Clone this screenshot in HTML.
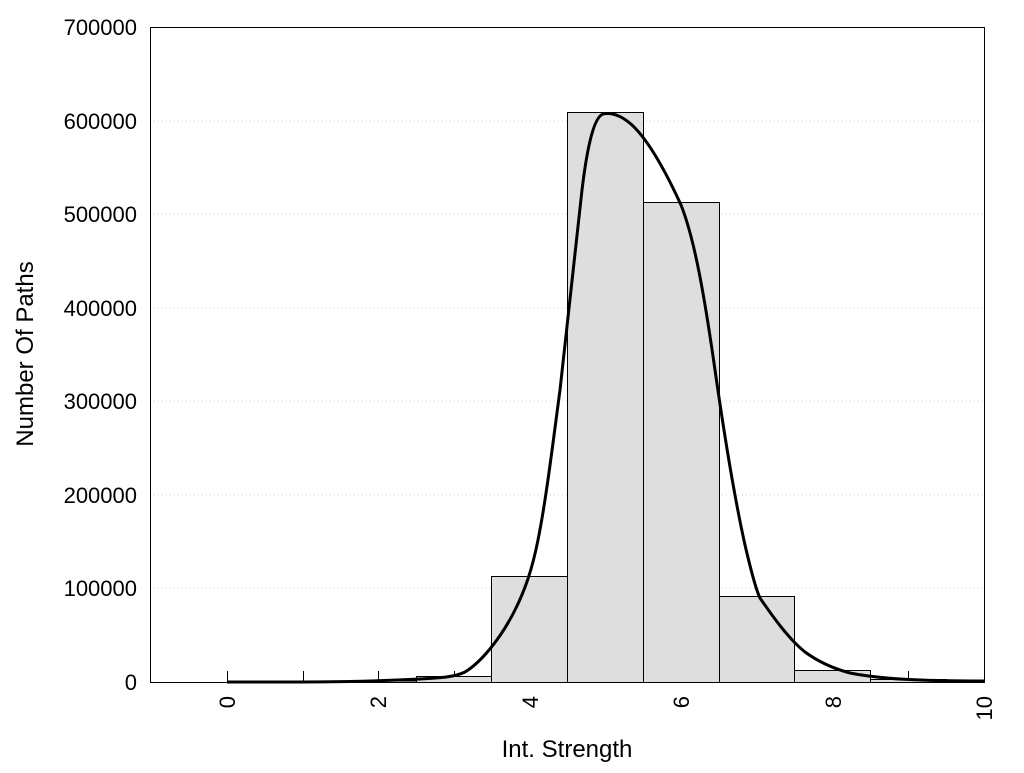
<!DOCTYPE html>
<html><head><meta charset="utf-8"><style>
body{margin:0;background:#fff;}
svg text{font-family:"Liberation Sans",Arial,sans-serif;font-size:22px;fill:#000;}
svg text.t{font-size:24px;}
</style></head><body>
<svg width="1024" height="768" viewBox="0 0 1024 768">
<rect width="1024" height="768" fill="#fff"/>
<g stroke="#ccc" stroke-dasharray="1,3" stroke-width="1">
<line x1="150" y1="121" x2="984" y2="121"/>
<line x1="150" y1="214" x2="984" y2="214"/>
<line x1="150" y1="308" x2="984" y2="308"/>
<line x1="150" y1="401" x2="984" y2="401"/>
<line x1="150" y1="495" x2="984" y2="495"/>
<line x1="150" y1="588" x2="984" y2="588"/>
</g>
<g stroke="#000" stroke-width="1">
<line x1="227.5" y1="682" x2="227.5" y2="671"/>
<line x1="303.5" y1="682" x2="303.5" y2="671"/>
<line x1="378.5" y1="682" x2="378.5" y2="671"/>
<line x1="454.5" y1="682" x2="454.5" y2="671"/>
<line x1="908.5" y1="682" x2="908.5" y2="671"/>
</g>
<g fill="#dedede" stroke="#000" stroke-width="1">
<rect x="227.5" y="681.5" width="151" height="1"/>
<rect x="378.5" y="681" width="38" height="1.5"/>
<rect x="416.5" y="676.5" width="75" height="6"/>
<rect x="491.5" y="576.5" width="76" height="106"/>
<rect x="567.5" y="112.5" width="76" height="570"/>
<rect x="643.5" y="202.5" width="76" height="480"/>
<rect x="719.5" y="596.5" width="75" height="86"/>
<rect x="794.5" y="670.5" width="76" height="12"/>
<rect x="870.5" y="679.5" width="76" height="3"/>
</g>
<rect x="150.5" y="27.5" width="834" height="655" fill="none" stroke="#000" stroke-width="1"/>
<path d="M227,682 L303,682 C340,682 380,681 420,679 C440,678 455,677 465,672 C480,663 500,640 515,610 C525,590 532,570 538,540 C546,500 552,450 560,390 C568,320 575,250 582,190 C588,140 595,117 603,114 C612,112 622,116 632,125 C648,140 665,170 681,205 C695,240 705,300 715,370 C725,440 735,500 745,545 C752,575 757,592 760,598 C775,620 790,640 805,652 C820,663 835,669 850,673 C880,679 920,681 984,681" fill="none" stroke="#000" stroke-width="3" stroke-linejoin="round"/>
<g text-anchor="end">
<text x="137" y="690">0</text>
<text x="137" y="596">100000</text>
<text x="137" y="503">200000</text>
<text x="137" y="409">300000</text>
<text x="137" y="316">400000</text>
<text x="137" y="222">500000</text>
<text x="137" y="129">600000</text>
<text x="137" y="35">700000</text>
</g>
<g text-anchor="end">
<text transform="translate(235,696) rotate(-90)">0</text>
<text transform="translate(386,696) rotate(-90)">2</text>
<text transform="translate(538,696) rotate(-90)">4</text>
<text transform="translate(689,696) rotate(-90)">6</text>
<text transform="translate(841,696) rotate(-90)">8</text>
<text transform="translate(992,696) rotate(-90)">10</text>
</g>
<text class="t" x="567" y="757" text-anchor="middle">Int. Strength</text>
<text class="t" transform="translate(33,354) rotate(-90)" text-anchor="middle">Number Of Paths</text>
</svg>
</body></html>
